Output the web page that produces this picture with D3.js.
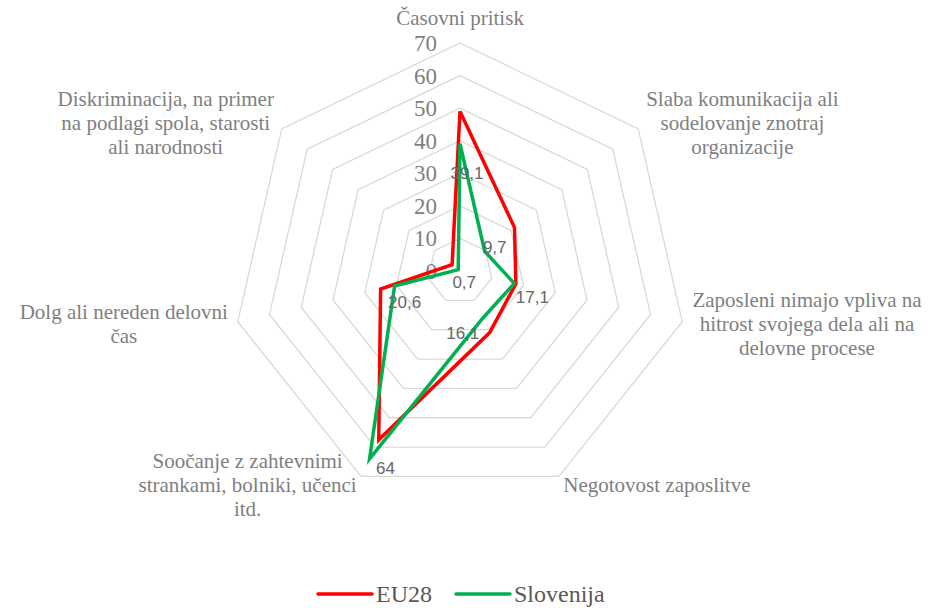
<!DOCTYPE html>
<html>
<head>
<meta charset="utf-8">
<script src="https://d3js.org/d3.v7.min.js"></script>
<style>
@font-face {font-family:'ChartSerif'; src: local('Liberation Serif'), local('LiberationSerif');}
body {margin:0;}
</style>
</head>
<body>
<svg id="radar" width="935" height="608"></svg>
<script>
var categories = ['Časovni pritisk',
                  'Slaba komunikacija ali\nsodelovanje znotraj\norganizacije',
                  'Zaposleni nimajo vpliva na\nhitrost svojega dela ali na\ndelovne procese',
                  'Negotovost zaposlitve',
                  'Soočanje z zahtevnimi\nstrankami, bolniki, učenci\nitd.',
                  'Dolg ali nereden delovni\nčas',
                  'Diskriminacija, na primer\nna podlagi spola, starosti\nali narodnosti']
var eu28 = [49, 21.4, 17.6, 21, 57.5, 25, 3.1]
var slovenija = [39.1, 9.7, 17.1, 16.1, 64, 20.6, 0.7]
var ticks = [0,10,20,30,40,50,60,70]
var seriesNames = ['EU28','Slovenija']

var cx = 460, cy = 271, R = 228
var colors = ['#ff0000','#00b050']
var serif = '"Times New Roman", ChartSerif, "Liberation Serif", serif'
var sans = '"Liberation Sans", Arial, sans-serif'
// label nudges for Slovenia values (like Excel placed them)
var nudge = [[7,29],[10,-4],[18,14],[-20,15],[16,9],[10,16],[6,12]]

var svg = d3.select('#radar')
var r = d3.scaleLinear().domain([0,70]).range([0,R])
var ang = d3.scaleLinear().domain([0,categories.length]).range([0,2*Math.PI])

function pt(i,v){
  var a = ang(i)
  return [cx + r(v)*Math.sin(a), cy - r(v)*Math.cos(a)]
}

//grid heptagons
var g = svg.append('g')
ticks.slice(1).forEach(function(t){
  g.append('polygon')
    .attr('points', categories.map(function(c,i){return pt(i,t).join(',')}).join(' '))
    .attr('fill','none')
    .attr('stroke','#d9d9d9')
    .attr('stroke-width',1.3)
})

//tick labels along the top axis
g.selectAll('.tick').data(ticks).enter().append('text')
  .attr('x', cx-23)
  .attr('y', function(d){return cy - r(d)})
  .attr('dy','0.35em')
  .attr('text-anchor','end')
  .attr('fill','#7f7f7f')
  .attr('font-family', serif)
  .style('font-family', serif)
  .style('font-size', '23px')
  .text(function(d){return d})

//category labels
categories.forEach(function(c,i){
  var a = ang(i), s = Math.sin(a), co = Math.cos(a)
  var lx = cx + (R+10)*s, ly = cy - (R+10)*co
  var lines = c.split('\n')
  var lh = 24
  var anchor = Math.abs(s) < 0.2 ? 'middle' : (s > 0 ? 'start' : 'end')
  var t = svg.append('text')
    .attr('fill','#7f7f7f')
    .attr('font-family', serif)
    .style('font-family', serif)
    .style('font-size', '21px')
    .attr('text-anchor','middle')
  lines.forEach(function(l,j){
    t.append('tspan').attr('x',0).attr('y', j*lh).text(l)
  })
  var bb = t.node().getBBox()
  var x0 = anchor=='middle' ? lx : (anchor=='start' ? lx + bb.width/2 : lx - bb.width/2)
  var y0
  if (i==0) y0 = ly - 8 - (lines.length-1)*lh
  else y0 = ly - (lines.length-1)*lh/2 + 7
  t.attr('transform','translate('+x0+','+y0+')')
})

//series lines
var line = d3.line().curve(d3.curveLinearClosed)
;[eu28, slovenija].forEach(function(vals,k){
  svg.append('path')
    .attr('d', line(vals.map(function(v,i){return pt(i,v)})))
    .attr('fill','none')
    .attr('stroke',colors[k])
    .attr('stroke-width',3.5)
    .attr('stroke-linejoin','miter')
})

//data labels for Slovenia
svg.selectAll('.dl').data(slovenija).enter().append('text')
  .attr('x', function(d,i){return pt(i,d)[0] + nudge[i][0]})
  .attr('y', function(d,i){return pt(i,d)[1] + nudge[i][1]})
  .attr('dy','0.35em')
  .attr('text-anchor','middle')
  .attr('fill','#666666')
  .style('font-family', sans)
  .style('font-size', '17px')
  .text(function(d){return String(d).replace('.',',')})

//legend
var lg = svg.append('g').attr('transform','translate(0,594)')
var lx = [318, 456]
seriesNames.forEach(function(n,k){
  lg.append('line')
    .attr('x1',lx[k]).attr('x2',lx[k]+54)
    .attr('y1',0).attr('y2',0)
    .attr('stroke',colors[k])
    .attr('stroke-width',3.5)
    .attr('stroke-linecap','round')
  lg.append('text')
    .attr('x',lx[k]+58)
    .attr('y',0)
    .attr('dy','0.33em')
    .attr('fill','#595959')
    .attr('font-family', serif)
    .style('font-family', serif)
    .style('font-size', '24px')
    .text(n)
})
</script>
</body>
</html>
